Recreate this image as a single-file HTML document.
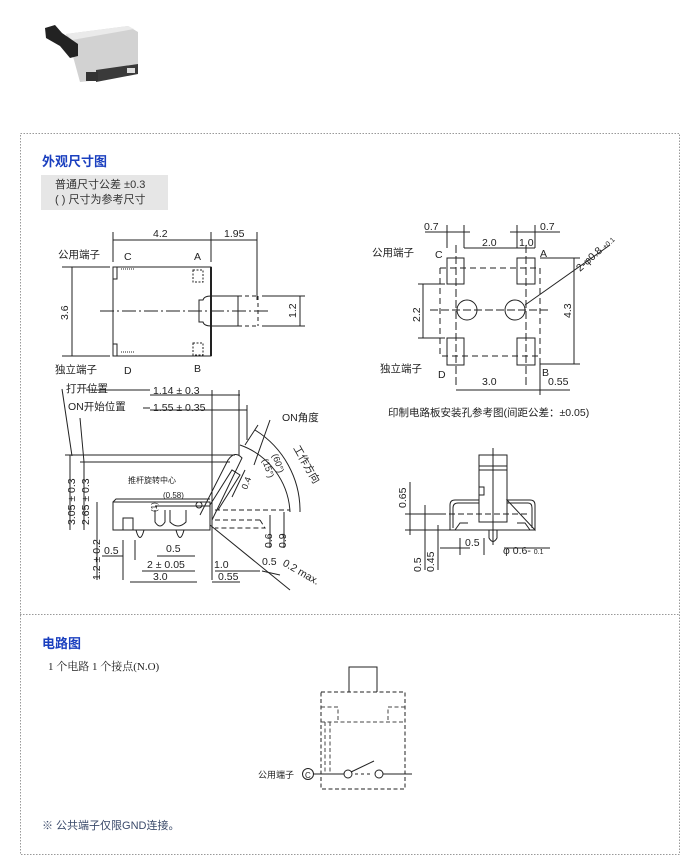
<!DOCTYPE html>
<html><head><meta charset="utf-8"><style>
body{margin:0;background:#fff;width:690px;height:858px;overflow:hidden}
svg{display:block}
text{font-family:"Liberation Sans","Noto Sans CJK SC",sans-serif;fill:#222}
</style></head><body>
<svg width="690" height="858" viewBox="0 0 690 858" xmlns="http://www.w3.org/2000/svg">
<!-- product photo -->
<g>
<polygon points="66,34 128,26 138,32 138,72 100,80 80,82 74,60" fill="#d2d2d2"/>
<polygon points="66,34 128,26 134,29 72,40" fill="#eaeaea"/>
<polygon points="96,70 138,64 138,74 96,82" fill="#3a3a3a"/>
<polygon points="45,28 55,25 62,33 78,44 78,56 70,58 60,46 46,38" fill="#222"/>
<rect x="86" y="72" width="12" height="9" fill="#333"/>
<rect x="127" y="68" width="8" height="5" fill="#ddd"/>
</g>
<!-- outer dotted frame -->
<rect x="20.5" y="133.5" width="659" height="721" fill="none" stroke="#999" stroke-dasharray="1.5,1.5"/>
<line x1="20" y1="614.5" x2="680" y2="614.5" stroke="#999" stroke-dasharray="1.5,1.5"/>

<text x="42" y="166" font-size="13" font-weight="bold" style="fill:#1a3fbf">外观尺寸图</text>
<rect x="41" y="175" width="127" height="35" fill="#e6e6e6"/>
<text x="55" y="188" font-size="11" style="fill:#333">普通尺寸公差 ±0.3</text>
<text x="55" y="203" font-size="11" style="fill:#333">( ) 尺寸为参考尺寸</text>

<g stroke="#222" stroke-width="1" fill="none">
<!-- top-left drawing -->
<line x1="113" y1="232" x2="113" y2="262"/><line x1="211" y1="232" x2="211" y2="262"/><line x1="257" y1="232" x2="257" y2="300"/>
<line x1="113" y1="240" x2="257" y2="240"/>
<rect x="113" y="267" width="98" height="89"/>
<line x1="211" y1="267" x2="211" y2="356" stroke-width="2"/>
<path d="M211,296 L238,296 L238,326 L211,326"/>
<path d="M211,296 Q204,296 203,300 L199,300 L199,322 L203,322 Q204,326 211,326"/>
<path d="M238,296 H258 M238,326 H258 M258,296 V326" stroke-dasharray="4,3"/>
<line x1="100" y1="311" x2="270" y2="311" stroke-dasharray="14,3,2,3"/>
<line x1="62" y1="267" x2="110" y2="267"/><line x1="62" y1="356" x2="110" y2="356"/>
<line x1="72" y1="267" x2="72" y2="356"/>
<line x1="262" y1="296" x2="305" y2="296"/><line x1="262" y1="326" x2="305" y2="326"/>
<line x1="300" y1="296" x2="300" y2="326"/>
<rect x="113" y="267" width="4" height="12"/><rect x="113" y="344" width="4" height="12"/>
<rect x="193" y="270" width="10" height="12" stroke-dasharray="2,1.5"/><rect x="193" y="343" width="10" height="12" stroke-dasharray="2,1.5"/>
<line x1="121" y1="269" x2="134" y2="269" stroke-dasharray="1,1"/><line x1="121" y1="352" x2="134" y2="352" stroke-dasharray="1,1"/>

<!-- bottom-left drawing -->
<line x1="62" y1="389" x2="72" y2="456"/>
<path d="M86,390 L150,390"/><path d="M143,408 L150,408"/>
<line x1="150" y1="395" x2="240" y2="395"/><line x1="150" y1="410" x2="247" y2="410"/>
<line x1="212" y1="390" x2="212" y2="580"/><line x1="239" y1="390" x2="239" y2="455"/><line x1="247" y1="405" x2="247" y2="440"/>
<line x1="80" y1="418" x2="84" y2="462"/>
<line x1="65" y1="455" x2="235" y2="455"/><line x1="80" y1="462" x2="230" y2="462"/>
<line x1="70" y1="455" x2="70" y2="530"/><line x1="84" y1="462" x2="84" y2="530"/>
<line x1="97" y1="502" x2="97" y2="580"/>
<path d="M113,502 L210,502 L210,530 L113,530 Z"/>
<path d="M113,502 L116,499 L210,499"/>
<path d="M155,510 L155,522 Q160,530 165,522 L165,510 M170,510 L170,522 Q178,530 186,522 L186,510"/>
<rect x="123" y="518" width="10" height="12"/>
<path d="M136,530 Q140,545 144,530 M176,530 Q180,545 184,530"/>
<line x1="155" y1="506" x2="210" y2="506"/>
<path d="M200,515 L228,460 Q235,450 242,458 L212,520"/>
<path d="M210,505 L232,470 L240,475 L218,510"/>
<circle cx="199" cy="505" r="3"/>
<path d="M215,510 H290 M215,520 H260 M260,520 L265,528 H215" stroke-dasharray="5,3"/>
<path d="M240,445 A75,75 0 0 1 290,512"/><path d="M255,430 A95,95 0 0 1 300,512"/>
<line x1="245" y1="445" x2="258" y2="425"/><line x1="270" y1="420" x2="254" y2="465"/>
<line x1="232" y1="497" x2="245" y2="470"/>
<line x1="270" y1="515" x2="270" y2="548"/><line x1="284" y1="512" x2="284" y2="548"/>
<line x1="210" y1="525" x2="290" y2="590"/>
<line x1="102" y1="556" x2="123" y2="556"/><line x1="123" y1="540" x2="123" y2="580"/>
<line x1="157" y1="556" x2="195" y2="556"/><line x1="135" y1="540" x2="135" y2="560"/>
<line x1="142" y1="571" x2="195" y2="571"/><line x1="215" y1="571" x2="260" y2="571"/>
<line x1="130" y1="582" x2="197" y2="582"/><line x1="212" y1="582" x2="240" y2="582"/>
<line x1="262" y1="571" x2="280" y2="575"/>

<!-- right top drawing -->
<rect x="447" y="258" width="17" height="26"/><rect x="517" y="258" width="18" height="26"/>
<rect x="447" y="338" width="17" height="27"/><rect x="517" y="338" width="18" height="27"/>
<circle cx="467" cy="310" r="10"/><circle cx="515" cy="310" r="10"/>
<path d="M440,268 V356 H540 M540,268 V356" stroke-dasharray="6,4"/>
<line x1="440" y1="268" x2="540" y2="268" stroke-dasharray="6,4"/>
<line x1="456" y1="245" x2="456" y2="385" stroke-dasharray="8,3"/><line x1="526" y1="245" x2="526" y2="385" stroke-dasharray="8,3"/>
<line x1="430" y1="310" x2="550" y2="310" stroke-dasharray="8,3"/>
<line x1="447" y1="225" x2="447" y2="248"/><line x1="464" y1="225" x2="464" y2="248"/>
<line x1="517" y1="225" x2="517" y2="248"/><line x1="535" y1="225" x2="535" y2="248"/>
<line x1="425" y1="232" x2="470" y2="232"/><line x1="510" y1="232" x2="560" y2="232"/>
<line x1="464" y1="248" x2="535" y2="248"/>
<line x1="418" y1="284" x2="445" y2="284"/><line x1="418" y1="338" x2="445" y2="338"/><line x1="423" y1="284" x2="423" y2="338"/>
<line x1="540" y1="258" x2="580" y2="258"/><line x1="540" y1="364" x2="580" y2="364"/><line x1="574" y1="258" x2="574" y2="364"/>
<line x1="525" y1="305" x2="610" y2="245"/>
<line x1="540" y1="358" x2="540" y2="395"/>
<line x1="456" y1="390" x2="570" y2="390"/>
<!-- right bottom drawing -->
<rect x="479" y="455" width="28" height="67"/>
<line x1="479" y1="466" x2="507" y2="466"/><line x1="479" y1="470" x2="507" y2="470"/>
<line x1="493" y1="448" x2="493" y2="545"/>
<rect x="479" y="487" width="5" height="8"/>
<path d="M450,530 V505 Q450,500 455,500 H479 M507,500 H530 Q535,500 535,505 V530 Z"/>
<path d="M453,528 V508 Q453,503 458,503 H479 M507,503 H528 Q532,503 532,508 V528"/>
<path d="M450,530 H535"/>
<path d="M455,530 L460,523 H468 M530,530 L525,523 H517"/>
<path d="M489,530 V538 Q493,545 497,538 V530"/>
<line x1="440" y1="514" x2="530" y2="514" stroke-dasharray="6,3"/>
<line x1="410" y1="482" x2="410" y2="535"/><line x1="405" y1="514" x2="440" y2="514"/>
<line x1="405" y1="530" x2="450" y2="530"/>
<line x1="425" y1="505" x2="425" y2="570"/><line x1="438" y1="525" x2="438" y2="570"/>
<line x1="440" y1="548" x2="470" y2="548"/><line x1="460" y1="538" x2="460" y2="555"/><line x1="484" y1="538" x2="484" y2="555"/>
<line x1="504" y1="548" x2="550" y2="548"/>
</g>

<g font-size="10.5">
<text x="153" y="237">4.2</text><text x="224" y="237">1.95</text>
<text x="58" y="258">公用端子</text><text x="124" y="260">C</text><text x="194" y="260">A</text>
<text x="55" y="373">独立端子</text><text x="124" y="374">D</text><text x="194" y="372">B</text>
<text transform="translate(68,320) rotate(-90)">3.6</text>
<text transform="translate(296,318) rotate(-90)">1.2</text>
<text x="66" y="392">打开位置</text><text x="153" y="394">1.14 ± 0.3</text>
<text x="68" y="410">ON开始位置</text><text x="153" y="411">1.55 ± 0.35</text>
<text x="282" y="421">ON角度</text>
<text transform="translate(293,448) rotate(60)">工作方向</text>
<text transform="translate(272,455) rotate(70)" font-size="9">(60°)</text>
<text transform="translate(262,460) rotate(70)" font-size="9">(15°)</text>
<text transform="translate(247,490) rotate(-70)" font-size="9">0.4</text>
<text x="128" y="483" font-size="8">推杆旋转中心</text>
<text x="163" y="498" font-size="8">(0.58)</text>
<text transform="translate(75,525) rotate(-90)">3.05 ± 0.3</text>
<text transform="translate(89,525) rotate(-90)">2.65 ± 0.3</text>
<text transform="translate(100,580) rotate(-90)">1.2 ± 0.2</text>
<text transform="translate(157,512) rotate(-90)" font-size="8">(1)</text>
<text x="104" y="554">0.5</text><text x="166" y="552">0.5</text>
<text x="147" y="568">2 ± 0.05</text><text x="214" y="568">1.0</text>
<text x="153" y="580">3.0</text><text x="218" y="580">0.55</text>
<text x="262" y="565">0.5</text>
<text transform="translate(282,565) rotate(30)">0.2 max.</text>
<text transform="translate(272,548) rotate(-90)">0.6</text><text transform="translate(286,548) rotate(-90)">0.9</text>

<text x="424" y="230">0.7</text><text x="540" y="230">0.7</text>
<text x="482" y="246">2.0</text><text x="519" y="246">1.0</text>
<text x="372" y="256">公用端子</text><text x="435" y="258">C</text><text x="540" y="257">A</text>
<text x="380" y="372">独立端子</text><text x="438" y="378">D</text><text x="542" y="376">B</text>
<text transform="translate(420,322) rotate(-90)">2.2</text>
<text transform="translate(571,318) rotate(-90)">4.3</text>
<text transform="translate(580,272) rotate(-42)">2-φ0.8 <tspan font-size="7">+0.1</tspan></text>
<text x="482" y="385">3.0</text><text x="548" y="385">0.55</text>
<text x="388" y="416">印制电路板安装孔参考图(间距公差：±0.05)</text>
<text transform="translate(406,508) rotate(-90)">0.65</text>
<text transform="translate(421,572) rotate(-90)">0.5</text><text transform="translate(434,572) rotate(-90)">0.45</text>
<text x="465" y="546">0.5</text><text x="503" y="554">φ 0.6- <tspan font-size="7">0.1</tspan></text>
</g>

<!-- circuit -->
<text x="42" y="648" font-size="13" font-weight="bold" style="fill:#1a3fbf">电路图</text>
<text x="48" y="670" font-size="11" style="font-family:'Liberation Serif','Noto Serif CJK SC',serif">1 个电路 1 个接点(N.O)</text>
<g stroke="#222" stroke-width="1" fill="none">
<path d="M349,692 V667 H377 V692"/>
<rect x="321" y="692" width="84" height="97" stroke-dasharray="4,2.5"/>
<path d="M321,707 H338 V722 M405,707 H388 V722 M321,722 H405 M325,722 V774 M330,722 V774" stroke-dasharray="4,2.5" stroke="#444"/>
<circle cx="308" cy="774" r="5.5"/>
<line x1="313" y1="774" x2="344" y2="774"/>
<circle cx="348" cy="774" r="4"/><circle cx="379" cy="774" r="4"/>
<line x1="351" y1="772" x2="374" y2="761"/>
<line x1="355" y1="774" x2="372" y2="774" stroke-dasharray="3,3"/>
<line x1="383" y1="774" x2="412" y2="774"/>
</g>
<text x="305" y="778" font-size="8">C</text>
<text x="258" y="778" font-size="9">公用端子</text>
<text x="42" y="829" font-size="11" style="fill:#3a4a6a">※ 公共端子仅限GND连接。</text>
</svg>
</body></html>
